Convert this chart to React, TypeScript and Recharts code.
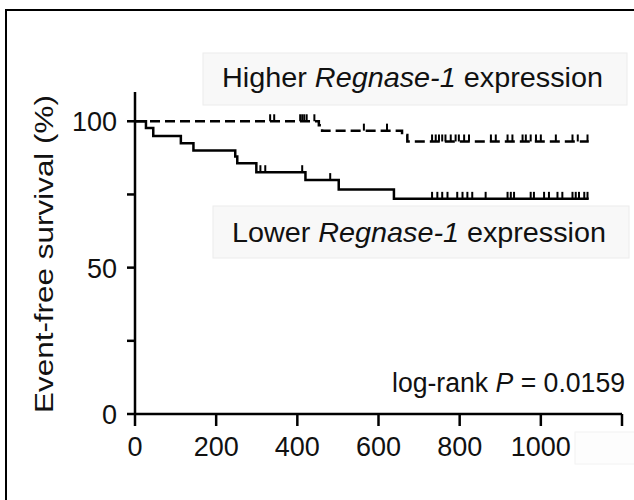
import React from "react";
import { ComposedChart, Line, Scatter, XAxis, YAxis } from "recharts";

// Kaplan-Meier steps (days, survival %)
const higherEventDays = [0, 453, 461, 658, 671];
const higherSurvival = [100, 98.6, 96.8, 95.3, 93.1];
const higherCensorDays = [
  333, 343, 407, 412, 417, 423, 442, 564, 621, 732, 741, 749, 757, 765, 778, 790, 798, 811,
  823, 877, 889, 918, 930, 955, 963, 975, 988, 1000, 1037, 1078, 1091, 1115,
];

const lowerEventDays = [0, 27, 45, 113, 144, 247, 252, 299, 420, 502, 638];
const lowerSurvival = [100, 97.7, 95, 92.5, 90, 88, 85.7, 82.6, 79.9, 76.7, 73.5];
const lowerCensorDays = [
  309, 321, 412, 481, 732, 745, 757, 770, 794, 807, 819, 831, 864, 918, 926, 934, 975, 983,
  1008, 1020, 1041, 1053, 1078, 1086, 1094, 1107, 1115,
];

const followUpEnd = 1118;
const xTicks = [0, 200, 400, 600, 800, 1000, 1200];
const xTickLabels = ["0", "200", "400", "600", "800", "1000", ""];
const yTicks = [0, 25, 50, 75, 100];
const yTickLabels = ["0", "", "50", "", "100"];

const FONT = "Liberation Sans, Arial, sans-serif";

function buildSteps(days: number[], surv: number[]) {
  const pts = days.map((t, i) => ({ t, s: surv[i] }));
  pts.push({ t: followUpEnd, s: surv[surv.length - 1] });
  return pts;
}

function survivalAt(days: number[], surv: number[], t: number) {
  let s = surv[0];
  days.forEach((d, i) => {
    if (d <= t) s = surv[i];
  });
  return s;
}

function buildCensors(censor: number[], days: number[], surv: number[]) {
  return censor.map((t) => ({ t, s: survivalAt(days, surv, t) }));
}

const higherLine = buildSteps(higherEventDays, higherSurvival);
const lowerLine = buildSteps(lowerEventDays, lowerSurvival);
const higherCensors = buildCensors(higherCensorDays, higherEventDays, higherSurvival);
const lowerCensors = buildCensors(lowerCensorDays, lowerEventDays, lowerSurvival);

const CensorTick = (props: any) => (
  <line x1={props.cx} x2={props.cx} y1={props.cy} y2={props.cy - 7} stroke="#000" strokeWidth={2} />
);

// tick mark + label drawn at the position the axis hands over
const XTick = (props: any) => {
  const { x, y, payload } = props;
  const label = xTickLabels[xTicks.indexOf(payload.value)] ?? "";
  return (
    <g>
      <line x1={x} x2={x} y1={y} y2={y + 12} stroke="#000" strokeWidth={2.5} />
      <text x={x} y={y + 42} textAnchor="middle" fontSize={27} fill="#111" fontFamily={FONT}>
        {label}
      </text>
    </g>
  );
};

const YTick = (props: any) => {
  const { x, y, payload } = props;
  const label = yTickLabels[yTicks.indexOf(payload.value)] ?? "";
  return (
    <g>
      <line x1={x - 8} x2={x} y1={y} y2={y} stroke="#000" strokeWidth={2.5} />
      <text x={x - 18} y={y + 10} textAnchor="end" fontSize={27} fill="#111" fontFamily={FONT}>
        {label}
      </text>
    </g>
  );
};

export default function App() {
  return (
    <div style={{ position: "absolute", left: 0, top: 0, width: 634, height: 500, background: "#fff" }}>
      <div
        style={{
          position: "absolute",
          left: 5,
          top: 9,
          width: 627,
          height: 489,
          borderTop: "2.5px solid #000",
          borderLeft: "2.5px solid #000",
        }}
      />
      <div style={{ position: "absolute", left: 0, top: 0 }}>
        <ComposedChart
          width={634}
          height={500}
          margin={{ top: 92, right: 12, bottom: 0, left: 0 }}
          style={{ fontFamily: FONT }}
        >
          <XAxis
            type="number"
            dataKey="t"
            domain={[0, 1200]}
            ticks={xTicks}
            interval={0}
            height={86}
            tickSize={0}
            tickMargin={0}
            tickLine={false}
            tick={<XTick />}
            axisLine={{ stroke: "#000", strokeWidth: 2.5 }}
          />
          <YAxis
            type="number"
            dataKey="s"
            domain={[0, 110]}
            ticks={yTicks}
            interval={0}
            width={135}
            tickSize={0}
            tickMargin={0}
            tickLine={false}
            tick={<YTick />}
            axisLine={{ stroke: "#000", strokeWidth: 2.5 }}
          />
          <Line
            data={lowerLine}
            dataKey="s"
            type="stepAfter"
            stroke="#000"
            strokeWidth={2.5}
            dot={false}
            isAnimationActive={false}
          />
          <Line
            data={higherLine}
            dataKey="s"
            type="stepAfter"
            stroke="#000"
            strokeWidth={2.5}
            strokeDasharray="10 5"
            dot={false}
            isAnimationActive={false}
          />
          <Scatter data={lowerCensors} shape={CensorTick} isAnimationActive={false} />
          <Scatter data={higherCensors} shape={CensorTick} isAnimationActive={false} />

          <rect x={203} y={53} width={424} height={52} fill="#f8f8f8" stroke="#ececec" />
          <text x={222} y={87} fontSize={28} fill="#111" textLength={381} lengthAdjust="spacingAndGlyphs">
            Higher <tspan fontStyle="italic">Regnase-1</tspan> expression
          </text>
          <rect x={213} y={206} width={416} height={52} fill="#f8f8f8" stroke="#ececec" />
          <text x={232} y={242} fontSize={28} fill="#111" textLength={374} lengthAdjust="spacingAndGlyphs">
            Lower <tspan fontStyle="italic">Regnase-1</tspan> expression
          </text>
          <text x={392} y={392} fontSize={27} fill="#111" textLength={233} lengthAdjust="spacingAndGlyphs">
            log-rank <tspan fontStyle="italic">P</tspan> = 0.0159
          </text>
          <rect x={575} y={432} width={60} height={32} fill="#fdfdfd" stroke="#f2f2f2" />
          <text
            x={53}
            y={254}
            fontSize={26}
            fill="#111"
            textAnchor="middle"
            textLength={318}
            lengthAdjust="spacingAndGlyphs"
            transform="rotate(-90, 53, 254)"
          >
            Event-free survival (%)
          </text>
        </ComposedChart>
      </div>
    </div>
  );
}
